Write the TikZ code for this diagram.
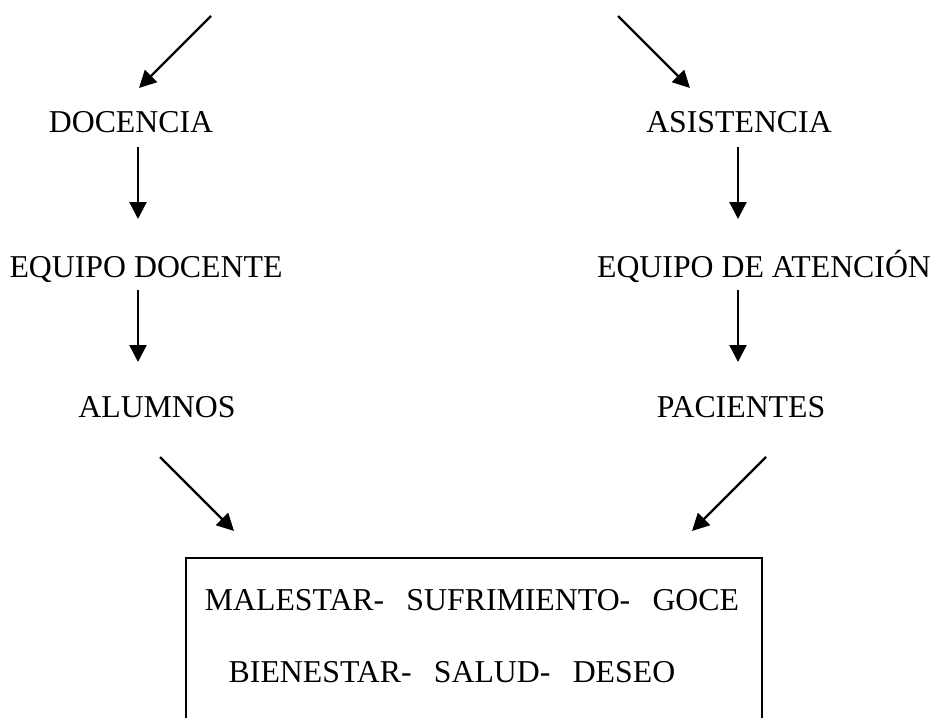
\documentclass[tikz,border=0pt]{standalone}
\usepackage{fontspec}
\setmainfont{Liberation Serif}
\usetikzlibrary{arrows.meta}
\begin{document}
\begin{tikzpicture}[x=1pt,y=-1pt,
  lbl/.style={anchor=base,inner sep=0pt,font=\fontsize{31.8}{36}\selectfont},
  arr/.style={line width=2.3pt,-{Triangle[length=17pt,width=17pt]}},
  frame/.style={line width=2pt}]
\useasboundingbox (0,0) rectangle (936,717);
% labels
\node[lbl] (doc) at (131,132) {DOCENCIA};
\node[lbl] (asi) at (739,132) {ASISTENCIA};
\node[lbl] (eqd) at (146,277) {EQUIPO DOCENTE};
\node[lbl] (eqa) at (764,277) {EQUIPO DE ATENCIÓN};
\node[lbl] (alu) at (157,417) {ALUMNOS};
\node[lbl] (pac) at (741,417) {PACIENTES};
\node[lbl] (l1) at (472,610) {MALESTAR-\hspace{0.7em}SUFRIMIENTO-\hspace{0.7em}GOCE};
\node[lbl] (l2) at (452,682) {BIENESTAR-\hspace{0.7em}SALUD-\hspace{0.7em}DESEO};
% arrow coordinates
\coordinate (tl0) at (211,16);  \coordinate (tl1) at (139,88);
\coordinate (tr0) at (618,16);  \coordinate (tr1) at (690,88);
\coordinate (v1a) at (138,147); \coordinate (v1b) at (138,219);
\coordinate (v2a) at (738,147); \coordinate (v2b) at (738,219);
\coordinate (v3a) at (138,290); \coordinate (v3b) at (138,362);
\coordinate (v4a) at (738,290); \coordinate (v4b) at (738,362);
\coordinate (bl0) at (160,457); \coordinate (bl1) at (234,531);
\coordinate (br0) at (766,457); \coordinate (br1) at (692,531);
\draw[arr] (tl0) -- (tl1);
\draw[arr] (tr0) -- (tr1);
\draw[arr] (v1a) -- (v1b);
\draw[arr] (v2a) -- (v2b);
\draw[arr] (v3a) -- (v3b);
\draw[arr] (v4a) -- (v4b);
\draw[arr] (bl0) -- (bl1);
\draw[arr] (br0) -- (br1);
% box (cut by bottom edge)
\draw[frame] (186,720) -- (186,558) -- (762,558) -- (762,720);
\end{tikzpicture}
\end{document}
